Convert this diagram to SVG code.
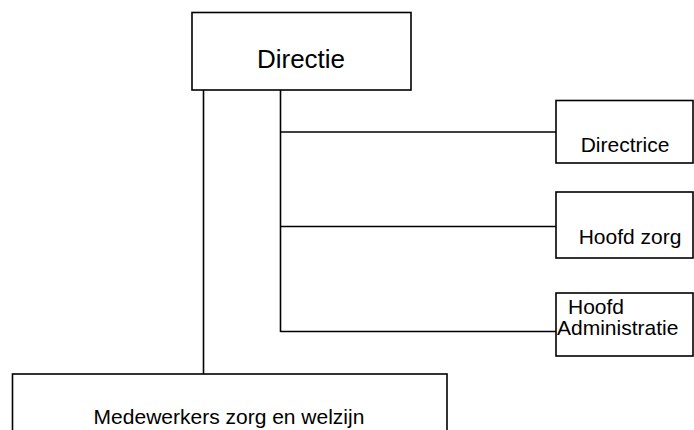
<svg xmlns="http://www.w3.org/2000/svg" width="694" height="430" viewBox="0 0 694 430">
<style>
.box{fill:#fff;stroke:#000;stroke-width:1.6}
.ln{stroke:#000;stroke-width:1.6;fill:none}
.t{font-family:"Liberation Sans",Arial,sans-serif;fill:#000;font-size:21px}
</style>
<rect width="694" height="430" fill="#fff"/>
<g id="connectors">
<line class="ln" x1="203.5" y1="90" x2="203.5" y2="374"/>
<line class="ln" x1="280.5" y1="90" x2="280.5" y2="332"/>
<line class="ln" x1="280.5" y1="132" x2="556" y2="132"/>
<line class="ln" x1="280.5" y1="226.5" x2="556" y2="226.5"/>
<line class="ln" x1="280.5" y1="331.5" x2="556" y2="331.5"/>
</g>
<g id="directie">
<rect class="box" x="192" y="12.5" width="219" height="77.5"/>
<text class="t" x="301" y="68" text-anchor="middle" style="font-size:26px">Directie</text>
</g>
<g id="directrice">
<rect class="box" x="556" y="100.5" width="137" height="62.5"/>
<text class="t" x="625" y="152" text-anchor="middle">Directrice</text>
</g>
<g id="hoofd-zorg">
<rect class="box" x="556" y="192" width="137" height="66"/>
<text class="t" x="630" y="244" text-anchor="middle">Hoofd zorg</text>
</g>
<g id="hoofd-administratie">
<rect class="box" x="556" y="293" width="137" height="63"/>
<text class="t" x="568" y="314">Hoofd</text>
<text class="t" x="557" y="335">Administratie</text>
</g>
<g id="medewerkers">
<rect class="box" x="12.5" y="374" width="434.5" height="70"/>
<text class="t" x="229" y="424" text-anchor="middle">Medewerkers zorg en welzijn</text>
</g>
</svg>
